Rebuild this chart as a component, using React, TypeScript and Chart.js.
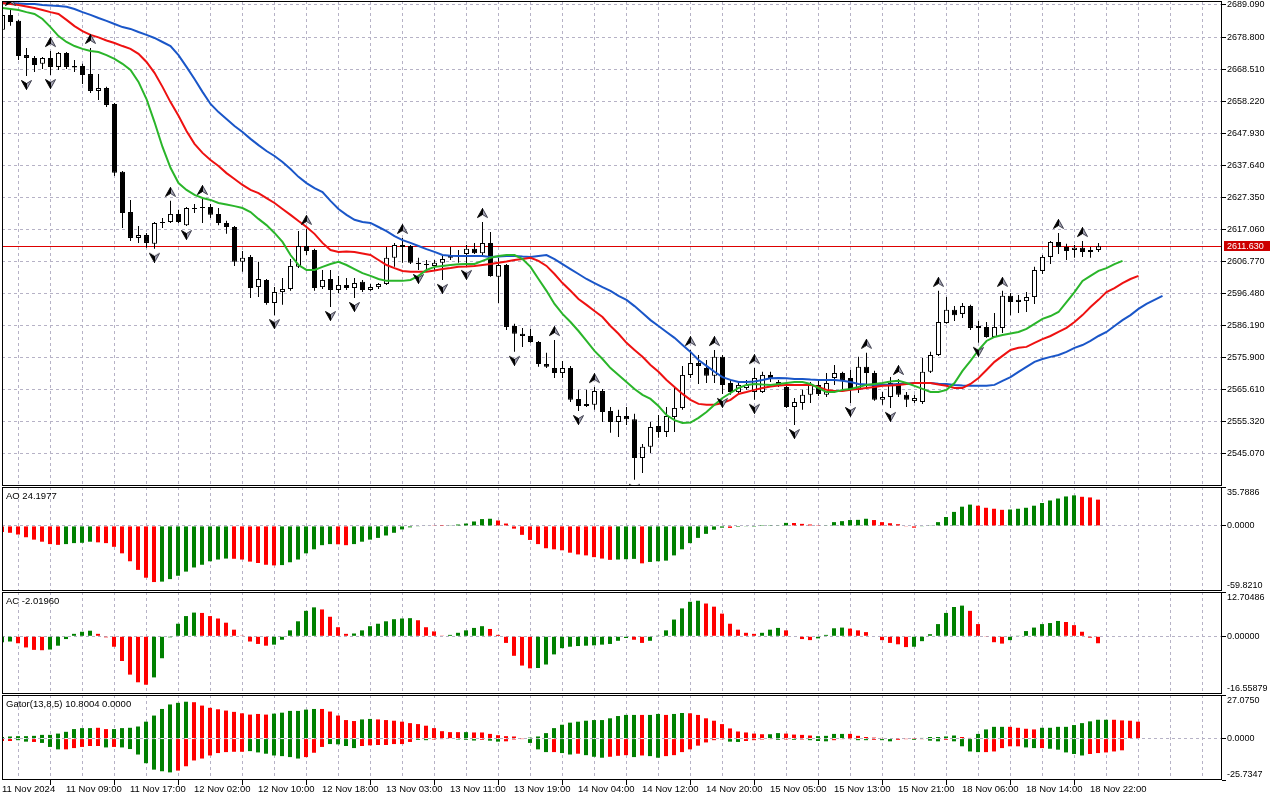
import React, { useEffect, useRef } from "react";
import { Chart, registerables } from "chart.js";

Chart.register(...registerables);

// ---------- price data (H1 bars, 11 Nov 01:00 .. 18 Nov 23:00) ----------
const opens = [
  2681.1, 2685.9, 2684.0, 2673.0, 2672.1, 2670.2, 2672.1, 2669.2, 2673.7, 2669.5,
  2669.5, 2666.9, 2661.5, 2662.4, 2657.3, 2635.5, 2622.6, 2614.3, 2615.2, 2612.4,
  2619.1, 2619.4, 2622.0, 2618.4, 2623.9, 2623.9, 2624.2, 2622.0, 2619.1, 2617.8,
  2606.6, 2608.2, 2598.5, 2600.8, 2593.4, 2596.9, 2597.9, 2605.0, 2611.7, 2610.4,
  2598.5, 2601.1, 2597.6, 2599.2, 2598.2, 2600.2, 2597.6, 2598.5, 2599.5, 2607.9,
  2611.4, 2611.7, 2606.3, 2605.9, 2605.3, 2606.3, 2607.9, 2608.8, 2609.1, 2610.8,
  2609.4, 2612.7, 2601.8, 2605.6, 2586.0, 2583.5, 2582.8, 2580.9, 2573.8, 2572.5,
  2570.9, 2572.5, 2562.6, 2561.0, 2560.7, 2565.1, 2558.7, 2555.2, 2557.1, 2556.1,
  2543.6, 2547.2, 2553.9, 2552.0, 2556.8, 2559.7, 2570.3, 2574.1, 2572.5, 2570.0,
  2576.1, 2567.7, 2564.8, 2566.1, 2564.8, 2564.8, 2570.3, 2568.0, 2566.4, 2560.0,
  2561.3, 2563.9, 2567.1, 2563.9, 2569.3, 2570.9, 2569.3, 2565.5, 2572.9, 2570.9,
  2562.3, 2563.2, 2567.7, 2563.9, 2561.9, 2561.6, 2571.3, 2576.7, 2587.0, 2591.2,
  2589.9, 2592.4, 2586.0, 2585.7, 2582.5, 2585.4, 2595.7, 2594.4, 2594.0, 2595.3,
  2603.7, 2608.2, 2613.0, 2611.4, 2610.4, 2611.1, 2609.8, 2610.4,
];
const highs = [
  2686.9, 2687.5, 2684.3, 2675.3, 2672.7, 2672.4, 2674.3, 2674.0, 2674.0, 2671.4,
  2670.2, 2675.3, 2666.9, 2662.8, 2657.6, 2635.8, 2626.5, 2618.1, 2615.9, 2619.4,
  2620.7, 2626.2, 2623.3, 2624.2, 2625.2, 2626.8, 2625.2, 2623.9, 2619.8, 2618.1,
  2610.1, 2608.8, 2606.6, 2601.1, 2598.5, 2601.4, 2607.5, 2616.5, 2617.2, 2610.8,
  2604.0, 2604.0, 2602.1, 2601.4, 2601.4, 2600.8, 2599.5, 2599.8, 2611.4, 2612.7,
  2614.3, 2612.0, 2607.9, 2607.2, 2607.2, 2608.8, 2611.4, 2610.4, 2612.0, 2612.7,
  2619.4, 2616.2, 2607.9, 2605.9, 2586.7, 2585.4, 2585.1, 2581.2, 2577.4, 2581.5,
  2574.8, 2573.2, 2565.5, 2565.5, 2566.4, 2565.8, 2560.0, 2559.1, 2560.0, 2557.8,
  2548.1, 2555.2, 2557.4, 2560.0, 2566.1, 2573.2, 2578.3, 2576.7, 2575.1, 2578.3,
  2576.7, 2568.7, 2568.0, 2568.7, 2572.5, 2571.3, 2571.3, 2568.7, 2567.7, 2562.9,
  2565.5, 2568.0, 2568.7, 2570.9, 2573.5, 2571.3, 2571.9, 2576.1, 2577.4, 2571.6,
  2564.8, 2569.6, 2569.0, 2564.8, 2563.9, 2575.7, 2577.7, 2597.3, 2595.3, 2592.4,
  2593.4, 2592.8, 2587.6, 2587.3, 2590.2, 2597.3, 2596.6, 2596.0, 2596.9, 2605.0,
  2608.8, 2613.3, 2615.9, 2612.4, 2612.0, 2613.3, 2611.4, 2612.7,
];
const lows = [
  2680.4, 2682.4, 2671.4, 2666.3, 2667.6, 2668.5, 2666.6, 2668.2, 2668.5, 2667.6,
  2663.7, 2660.8, 2658.6, 2656.3, 2634.2, 2617.5, 2613.3, 2612.7, 2611.1, 2610.8,
  2617.5, 2619.1, 2619.1, 2618.1, 2622.3, 2619.1, 2620.7, 2618.4, 2615.6, 2605.3,
  2603.4, 2595.0, 2595.3, 2592.8, 2589.5, 2592.8, 2597.3, 2604.6, 2608.8, 2597.3,
  2597.9, 2592.1, 2596.6, 2597.6, 2595.0, 2596.9, 2597.3, 2597.9, 2599.2, 2605.0,
  2606.3, 2605.9, 2604.0, 2604.0, 2604.0, 2600.8, 2607.2, 2606.3, 2605.3, 2609.1,
  2608.8, 2601.8, 2593.4, 2584.7, 2577.7, 2579.3, 2580.6, 2572.9, 2572.5, 2569.3,
  2569.3, 2561.6, 2558.7, 2560.0, 2559.1, 2555.2, 2551.7, 2550.4, 2554.2, 2536.6,
  2538.8, 2545.2, 2550.1, 2550.4, 2552.0, 2559.1, 2569.3, 2567.4, 2567.7, 2567.7,
  2564.2, 2563.9, 2564.2, 2565.5, 2562.3, 2564.5, 2568.0, 2566.4, 2559.7, 2554.2,
  2559.1, 2561.3, 2563.5, 2563.2, 2567.1, 2565.5, 2561.3, 2564.5, 2566.1, 2562.0,
  2560.7, 2559.7, 2563.2, 2560.0, 2561.3, 2561.0, 2570.9, 2576.4, 2586.7, 2587.6,
  2588.6, 2584.7, 2580.6, 2582.2, 2582.2, 2583.8, 2589.5, 2590.2, 2590.5, 2593.1,
  2602.7, 2605.9, 2609.1, 2607.2, 2607.9, 2608.2, 2607.9, 2609.8,
];
const closes = [
  2685.9, 2683.6, 2672.7, 2672.1, 2669.8, 2672.1, 2669.2, 2673.7, 2669.2, 2669.0,
  2666.6, 2661.5, 2662.4, 2657.0, 2635.2, 2622.3, 2614.3, 2615.2, 2612.7, 2619.1,
  2619.4, 2622.0, 2619.4, 2623.9, 2623.6, 2624.2, 2621.7, 2619.1, 2617.8, 2606.6,
  2607.9, 2598.2, 2601.1, 2593.4, 2596.9, 2597.9, 2605.3, 2611.7, 2610.1, 2598.2,
  2600.8, 2597.6, 2599.2, 2598.2, 2599.8, 2597.6, 2598.5, 2599.5, 2607.9, 2612.0,
  2612.0, 2606.3, 2605.9, 2605.6, 2606.3, 2607.5, 2608.5, 2608.6, 2610.8, 2609.4,
  2612.7, 2602.1, 2605.6, 2585.7, 2583.5, 2582.8, 2580.9, 2573.8, 2572.9, 2570.9,
  2572.5, 2562.3, 2560.3, 2560.3, 2565.1, 2558.4, 2555.2, 2557.1, 2556.1, 2543.6,
  2547.2, 2553.6, 2552.0, 2557.1, 2559.7, 2570.3, 2574.1, 2573.2, 2570.0, 2576.1,
  2567.1, 2564.8, 2567.1, 2567.1, 2569.3, 2570.3, 2569.0, 2567.1, 2560.0, 2561.6,
  2563.9, 2567.1, 2564.2, 2567.7, 2570.9, 2568.7, 2565.5, 2572.9, 2570.9, 2562.3,
  2563.2, 2567.7, 2563.9, 2562.3, 2562.9, 2571.3, 2576.7, 2587.3, 2591.2, 2589.5,
  2592.4, 2585.4, 2585.4, 2582.5, 2585.7, 2595.7, 2593.7, 2593.7, 2595.3, 2604.0,
  2608.2, 2613.0, 2611.4, 2610.1, 2611.1, 2609.8, 2610.4, 2611.63,
];
const lastPrice = 2611.63;

// ---------- Alligator (as displayed, shifted forward) ----------
const jaw = [
  2689.7, 2689.7, 2689.6, 2689.4, 2689.4, 2689.1, 2688.9, 2688.8, 2688.5, 2687.8,
  2686.8, 2685.9, 2684.9, 2684.0, 2683.0, 2682.0, 2681.4, 2680.4, 2679.5, 2678.5,
  2677.2, 2675.9, 2673.0, 2669.2, 2665.3, 2661.2, 2657.3, 2654.7, 2652.5, 2650.2,
  2648.3, 2646.1, 2644.1, 2642.2, 2640.6, 2638.7, 2636.4, 2633.9, 2631.9, 2630.3,
  2629.0, 2626.2, 2623.6, 2621.7, 2620.1, 2619.4, 2619.1, 2617.8, 2616.5, 2614.9,
  2613.6, 2612.7, 2611.7, 2610.7, 2609.8, 2608.8, 2608.6, 2608.5, 2608.5, 2608.5,
  2608.5, 2608.2, 2608.3, 2608.5, 2608.5, 2608.3, 2608.2, 2608.5, 2608.8, 2607.5,
  2605.9, 2604.3, 2602.7, 2601.1, 2599.8, 2598.5, 2597.3, 2595.7, 2594.4, 2592.4,
  2590.2, 2587.9, 2586.0, 2584.1, 2582.2, 2579.9, 2577.7, 2575.1, 2573.2, 2571.3,
  2569.6, 2568.7, 2568.0, 2568.0, 2568.2, 2568.7, 2569.2, 2569.3, 2569.2, 2569.0,
  2569.0, 2568.8, 2568.7, 2568.7, 2568.7, 2568.4, 2568.0, 2567.4, 2567.2, 2567.1,
  2567.1, 2567.2, 2567.4, 2567.5, 2567.7, 2567.7, 2567.7, 2567.5, 2567.4, 2567.1,
  2566.9, 2566.8, 2566.8, 2566.8, 2567.1, 2568.4, 2569.6, 2571.3, 2572.9, 2574.5,
  2575.4, 2576.1, 2576.7, 2577.7, 2579.0, 2579.9, 2581.2, 2582.8, 2584.1, 2586.0,
  2587.9, 2589.5, 2591.5, 2593.1, 2594.4, 2595.7,
];
const teeth = [
  2689.7, 2689.4, 2689.1, 2688.6, 2688.1, 2687.5, 2686.8, 2686.2, 2684.3, 2682.3,
  2680.7, 2679.5, 2678.7, 2677.7, 2676.9, 2675.9, 2675.0, 2673.4, 2670.8, 2667.3,
  2662.8, 2657.9, 2653.5, 2648.6, 2644.5, 2641.6, 2639.3, 2637.4, 2635.1, 2633.2,
  2631.3, 2629.7, 2628.7, 2627.1, 2625.5, 2623.6, 2621.7, 2619.7, 2617.8, 2615.6,
  2612.7, 2610.4, 2609.8, 2609.9, 2609.8, 2609.3, 2608.8, 2607.2, 2605.6, 2604.6,
  2603.7, 2603.4, 2603.4, 2603.4, 2603.8, 2604.3, 2604.6, 2605.0, 2605.1, 2605.3,
  2605.6, 2605.9, 2606.3, 2606.7, 2607.2, 2607.5, 2607.9, 2606.9, 2605.3, 2602.7,
  2599.8, 2597.3, 2594.7, 2592.8, 2590.8, 2588.9, 2586.0, 2583.5, 2580.6, 2578.3,
  2576.1, 2573.5, 2571.3, 2568.7, 2566.4, 2564.2, 2562.3, 2561.0, 2560.7, 2560.7,
  2561.3, 2562.3, 2564.2, 2564.8, 2565.5, 2566.1, 2566.6, 2566.9, 2567.1, 2567.1,
  2567.1, 2567.1, 2566.4, 2565.5, 2565.1, 2565.1, 2565.5, 2565.8, 2566.1, 2566.4,
  2566.8, 2566.9, 2567.1, 2567.4, 2567.7, 2567.7, 2567.7, 2567.2, 2566.8, 2566.1,
  2566.1, 2567.4, 2569.3, 2571.9, 2574.5, 2576.4, 2578.3, 2579.0, 2579.3, 2580.6,
  2581.8, 2582.8, 2584.1, 2585.4, 2587.3, 2589.5, 2592.1, 2594.4, 2596.9, 2598.2,
  2599.8, 2601.1, 2602.1,
];
const lips = [
  2688.1, 2687.8, 2687.5, 2686.8, 2686.2, 2684.6, 2682.0, 2679.1, 2677.2, 2675.9,
  2675.0, 2674.3, 2674.0, 2673.0, 2671.8, 2670.2, 2668.2, 2664.4, 2658.9, 2651.5,
  2643.5, 2636.8, 2631.9, 2629.7, 2628.1, 2627.1, 2626.5, 2625.5, 2625.0, 2624.5,
  2623.9, 2622.6, 2620.4, 2618.4, 2615.9, 2613.0, 2608.8, 2605.6, 2604.0, 2604.0,
  2605.0, 2605.9, 2606.6, 2605.6, 2604.3, 2603.0, 2602.1, 2601.1, 2600.5, 2600.5,
  2600.5, 2600.8, 2602.1, 2604.0, 2605.0, 2605.3, 2605.6, 2605.8, 2605.9, 2605.9,
  2606.9, 2607.9, 2608.5, 2608.8, 2608.8, 2607.5, 2605.0, 2601.1, 2597.3, 2593.1,
  2589.9, 2587.3, 2584.4, 2581.2, 2578.0, 2575.4, 2572.5, 2570.3, 2568.0, 2565.8,
  2563.9, 2562.6, 2560.3, 2557.4, 2555.8, 2554.9, 2555.0, 2556.5, 2558.4, 2560.7,
  2562.9, 2564.5, 2566.1, 2567.1, 2567.4, 2567.2, 2567.1, 2567.4, 2567.7, 2568.0,
  2568.0, 2567.4, 2566.1, 2564.8, 2564.8, 2565.5, 2565.8, 2566.4, 2567.1, 2567.4,
  2567.7, 2568.2, 2568.4, 2567.7, 2566.8, 2565.8, 2564.8, 2564.8, 2565.5, 2567.7,
  2571.6, 2574.8, 2578.3, 2581.2, 2582.5, 2583.1, 2583.6, 2584.1, 2585.1, 2586.7,
  2588.3, 2589.2, 2590.5, 2593.7, 2596.9, 2600.5, 2602.1, 2603.7, 2604.6, 2605.9,
  2606.9,
];

// ---------- Fractals (bar indexes) ----------
const fractalUpBars = [1, 6, 11, 21, 25, 38, 50, 60, 69, 74, 86, 89, 94, 108, 112, 117, 125, 132, 135];
const fractalDownBars = [3, 6, 19, 23, 34, 41, 44, 52, 55, 58, 64, 72, 79, 90, 94, 99, 106, 111, 122];

// ---------- Awesome Oscillator ----------
const aoValues = [
  -5.5, -6.3, -7.9, -10.4, -12.6, -14.5, -16.7, -17.4, -16.7, -15.8,
  -15.5, -14.5, -15.1, -15.8, -19.2, -25.2, -32.5, -40.4, -47.6, -51.6,
  -51.2, -48.9, -45.8, -42.0, -38.2, -35.7, -32.5, -30.9, -30.0, -30.2,
  -30.9, -32.8, -34.1, -35.7, -36.3, -36.0, -33.4, -30.9, -25.2, -21.5,
  -17.7, -16.7, -16.9, -17.7, -16.7, -14.5, -12.6, -11.0, -8.8, -6.3,
  -3.2, -1.3, -0.6, 0.5, 0.3, 0.1, 0.3, 1.3, 2.2, 4.1,
  6.3, 6.6, 5.0, 2.2, -2.5, -8.2, -12.9, -16.7, -20.5, -21.5,
  -22.4, -24.6, -26.2, -27.1, -28.7, -30.0, -31.2, -30.9, -30.6, -30.3,
  -34.4, -33.1, -32.5, -31.9, -27.1, -21.5, -15.8, -11.0, -7.3, -3.5,
  -1.6, -1.8, -0.9, -0.3, -0.1, 0.1, 0.2, 0.6, 2.8, 2.7,
  1.9, 1.3, 0.2, 0.6, 3.5, 4.4, 5.4, 5.6, 6.6, 5.4,
  3.5, 2.5, 1.6, -0.3, -1.6, -0.6, 0.3, 3.5, 8.2, 12.9,
  17.7, 19.6, 18.6, 16.7, 15.8, 14.8, 15.1, 15.8, 16.7, 18.6,
  21.1, 23.4, 25.2, 27.1, 28.1, 26.8, 26.2, 24.2,
];
const aoRising =
  "RRRRRRRR" + "GGGG" + "RRRRRRRR" + "GGGGGGGGG" + "RRRRRR" + "GGGGGGG" + "RR" +
  "GGGGGGGGGG" + "RR" + "GGGGGG" + "RRRRRRRRRRRRRRR" + "GGG" + "R" + "GGGGGGGGGG" +
  "R" + "GGGGGGG" + "RRRR" + "GGGGGG" + "RRRRRR" + "GGGGGGG" + "RRRR" + "GGGGGGGGG" + "RRR";

// ---------- Accelerator Oscillator ----------
const acValues = [
  -1.7, -1.5, -2.0, -3.2, -3.9, -4.0, -3.8, -2.7, -0.8, 0.7,
  1.3, 1.6, 0.7, -0.3, -3.0, -7.1, -11.0, -13.2, -13.9, -11.8,
  -6.3, -0.3, 3.6, 5.8, 6.8, 6.7, 5.8, 5.1, 3.9, 1.9,
  0.2, -1.5, -2.2, -2.7, -2.4, -1.0, 1.7, 4.3, 7.3, 8.3,
  7.7, 5.6, 2.6, 0.7, 0.8, 1.7, 2.9, 3.6, 4.3, 4.9,
  5.1, 5.2, 4.6, 2.6, 1.4, 0.2, 0.4, 1.0, 1.7, 2.4,
  2.9, 2.1, 0.4, -1.9, -5.6, -8.4, -9.2, -9.1, -8.1, -5.2,
  -3.4, -3.0, -2.8, -2.7, -2.6, -2.4, -2.2, -1.3, -0.5, -1.0,
  -1.9, -1.3, 0.2, 1.7, 4.8, 8.0, 9.9, 10.2, 9.4, 8.5,
  6.5, 3.6, 1.9, 1.0, 0.7, 1.0, 1.9, 2.4, 1.7, 0.0,
  -0.8, -1.1, -0.6, 0.4, 2.3, 2.5, 2.2, 1.7, 1.2, 0.0,
  -1.1, -1.9, -2.3, -3.1, -3.0, -1.4, 0.6, 3.5, 6.7, 8.4,
  8.8, 7.3, 3.5, -0.1, -1.7, -2.1, -1.1, 0.1, 1.5, 2.5,
  3.5, 3.8, 4.4, 4.1, 3.2, 1.3, -0.4, -2.0,
];
const acRising =
  "GG" + "RRRR" + "GGGGGG" + "RRRRRRR" + "GGGGGG" + "RRRRRRRRR" + "GGGGGG" + "RRRR" +
  "GGGGGGGG" + "RRRR" + "GGGGG" + "RRRRRR" + "GGGGGGGGGGGG" + "RR" + "GGGGGGG" +
  "RRRRRRR" + "GGG" + "RRRR" + "GGGG" + "RRRRRRRR" + "GGGGGGG" + "RRRRR" + "GGGGGGG" + "RRRRR";

// ---------- Gator Oscillator ----------
const gatorUpper = [
  1.0, 1.3, 1.5, 1.5, 1.7, 2.3, 2.3, 3.1, 4.2, 5.9,
  6.5, 6.5, 6.7, 5.9, 5.9, 6.5, 6.7, 7.5, 10.5, 14.3,
  18.4, 21.2, 22.2, 22.9, 22.6, 20.5, 19.1, 18.2, 17.4, 16.6,
  15.7, 14.9, 15.3, 14.9, 15.5, 16.1, 17.2, 17.2, 18.0, 18.4,
  18.4, 16.8, 14.3, 11.5, 10.9, 11.9, 12.2, 11.9, 11.5, 11.1,
  10.5, 9.6, 9.0, 8.0, 6.5, 4.6, 4.0, 4.0, 4.0, 3.8,
  3.8, 2.9, 2.1, 1.5, 1.3, 0.2, 0.6, 1.3, 3.4, 6.5,
  8.6, 9.9, 10.5, 11.1, 11.5, 11.5, 12.6, 14.0, 14.7, 14.7,
  14.7, 14.7, 15.3, 14.7, 15.3, 15.9, 15.7, 14.7, 12.6, 11.1,
  9.0, 6.3, 4.4, 3.8, 3.1, 2.7, 2.7, 3.4, 3.1, 2.5,
  2.3, 1.9, 1.5, 1.7, 2.9, 2.9, 2.9, 1.7, 1.0, 0.6,
  0.4, 0.3, 0.2, 0.2, 0.1, 0.4, 1.0, 1.0, 1.3, 1.9,
  1.0, 0.4, 2.9, 5.7, 7.3, 7.3, 7.3, 6.7, 6.1, 5.7,
  6.7, 6.7, 7.3, 7.3, 8.4, 9.6, 10.7, 11.7, 11.7, 11.7,
  11.3, 11.1, 10.5,
];
const gatorUpperRising =
  "GGGGGGGGGGGG" + "RR" + "GGGGGGGGGG" + "RRRRRRRRRR" + "GGGGGG" + "RRRRR" + "GG" +
  "RRRRRRRRRRR" + "G" + "RRRRRRR" + "GGGGGGGGGGGGGG" + "R" + "GG" + "R" + "GG" +
  "RRRRRRRRRR" + "GG" + "RRRR" + "GGGG" + "RRRRRRRRR" + "GGGGG" + "RR" + "GGGG" +
  "RRRR" + "GGGGGGGGG" + "RRRR";
const gatorLower = [
  -1.5, -1.5, -1.0, -1.9, -2.1, -2.7, -5.2, -6.7, -6.7, -5.9,
  -5.2, -4.6, -4.6, -5.5, -5.2, -5.5, -6.5, -9.9, -15.3, -19.3,
  -20.3, -21.0, -19.9, -17.2, -13.6, -12.4, -10.5, -9.0, -8.4, -8.2,
  -8.2, -7.8, -8.6, -9.4, -10.5, -10.9, -11.5, -12.4, -11.5, -8.8,
  -5.2, -3.4, -3.6, -4.6, -5.9, -4.6, -4.2, -4.0, -4.0, -3.4,
  -3.4, -2.1, -0.8, -1.0, -0.6, -0.4, -0.3, -0.6, -0.8, -1.2,
  -0.8, -1.3, -1.9, -1.7, -0.6, -0.2, -2.7, -6.7, -8.4, -8.4,
  -9.0, -9.9, -9.4, -10.3, -11.3, -11.9, -11.3, -10.7, -10.3, -11.5,
  -10.5, -10.9, -11.9, -10.9, -10.3, -8.4, -6.7, -4.4, -2.4, -1.0,
  -0.5, -1.9, -2.1, -1.5, -1.0, -0.6, -0.4, -0.8, -0.6, -0.8,
  -0.6, -1.0, -1.5, -1.7, -1.0, -0.4, -0.1, -1.0, -1.0, -0.8,
  -1.0, -1.7, -0.8, -0.4, -0.8, -0.4, -1.3, -1.7, -0.8, -1.7,
  -4.8, -8.0, -8.4, -8.4, -8.0, -5.9, -4.8, -4.8, -5.5, -5.9,
  -5.9, -6.3, -6.9, -8.6, -9.6, -10.5, -9.6, -9.0, -8.6, -8.0,
  -7.3,
];
const gatorLowerRising =
  "RR" + "GG" + "R" + "GGG" + "RRRRR" + "G" + "R" + "GGGGGGG" + "RRRRRRRRR" + "GGGGGGG" +
  "RRR" + "GGGG" + "RRRRRRR" + "GG" + "RRR" + "GGG" + "R" + "GG" + "RRR" + "GGG" + "R" +
  "GG" + "R" + "GGG" + "RRR" + "G" + "R" + "GG" + "RRRRRRRR" + "GG" + "RRRR" + "G" + "R" +
  "G" + "R" + "GGG" + "RRR" + "GG" + "R" + "GG" + "RR" + "G" + "R" + "GG" + "R" + "GGGG" +
  "RRRRR" + "GG" + "R" + "GGGGG" + "RRRRR";

// ---------- Axis ticks / labels ----------
const priceTicks = [
  2545.07, 2555.32, 2565.61, 2575.9, 2586.19, 2596.48, 2606.77, 2617.06,
  2627.35, 2637.64, 2647.93, 2658.22, 2668.51, 2678.8, 2689.09,
];
const timeLabelBars = [0, 8, 16, 24, 32, 40, 48, 56, 64, 72, 80, 88, 96, 104, 112, 120, 128, 136];
const timeLabelTexts = [
  "11 Nov 2024", "11 Nov 09:00", "11 Nov 17:00", "12 Nov 02:00", "12 Nov 10:00",
  "12 Nov 18:00", "13 Nov 03:00", "13 Nov 11:00", "13 Nov 19:00", "14 Nov 04:00",
  "14 Nov 12:00", "14 Nov 20:00", "15 Nov 05:00", "15 Nov 13:00", "15 Nov 21:00",
  "18 Nov 06:00", "18 Nov 14:00", "18 Nov 22:00",
];
const aoRange = [-59.821, 35.7886];
const acRange = [-16.55879, 12.70486];
const gatorRange = [-25.7347, 27.075];

// ---------- styling ----------
const FAMILY = "'Liberation Sans', Arial, sans-serif";
const FONT = { family: FAMILY, size: 9 };
const XFONT = { family: FAMILY, size: 9.5 };
const GRID = "#b6b2c6";
const UP_GREEN = "#008000";
const DOWN_RED = "#ff0000";
const JAW_BLUE = "#1a56c8";
const TEETH_RED = "#ee1111";
const LIPS_GREEN = "#2ab52a";
const AXIS_W = 58;
const GRID_STEP_BARS = 4;
const GRID_BARS = Array.from({ length: 39 }, (_, k) => k * GRID_STEP_BARS);
const LABEL_AT = new Map<number, string>(timeLabelBars.map((b, k) => [b, timeLabelTexts[k]]));

const colorsOf = (flags: string, n: number) =>
  Array.from({ length: n }, (_, i) => ((flags[i] || flags[flags.length - 1]) === "G" ? UP_GREEN : DOWN_RED));

// fractal arrow glyph: dark left half, light right half (MT5 look)
function makeArrow(up: boolean) {
  const c = document.createElement("canvas");
  c.width = 11;
  c.height = 28;
  const g = c.getContext("2d") as CanvasRenderingContext2D;
  const y0 = up ? 0.5 : 18.5;
  const tipY = up ? y0 : y0 + 9;
  const baseY = up ? y0 + 9 : y0;
  const notchY = up ? y0 + 6 : y0 + 3;
  // right half
  g.beginPath();
  g.moveTo(5.5, tipY);
  g.lineTo(10.5, baseY);
  g.lineTo(5.5, notchY);
  g.closePath();
  g.fillStyle = "#a8a8b8";
  g.fill();
  g.strokeStyle = "#3a3a48";
  g.lineWidth = 1;
  g.stroke();
  // left half
  g.beginPath();
  g.moveTo(5.5, tipY);
  g.lineTo(0.5, baseY);
  g.lineTo(5.5, notchY);
  g.closePath();
  g.fillStyle = "#000";
  g.fill();
  g.strokeStyle = "#000";
  g.stroke();
  return c;
}

function xAxis(min: number, max: number, showLabels: boolean) {
  return {
    type: "linear",
    min,
    max,
    offset: false,
    afterBuildTicks: (s: any) => {
      s.ticks = GRID_BARS.map((v) => ({ value: v }));
    },
    afterFit: (s: any) => {
      s.height = showLabels ? 20 : 0;
      s.paddingLeft = 0;
      s.paddingRight = 0;
    },
    grid: {
      color: GRID,
      lineWidth: 1,
      drawTicks: showLabels,
      tickLength: 5,
      tickColor: (ctx: any) => (ctx.tick && LABEL_AT.has(ctx.tick.value) ? "#000" : "rgba(0,0,0,0)"),
    },
    border: { display: false, dash: [3, 3] },
    ticks: {
      display: showLabels,
      autoSkip: false,
      maxRotation: 0,
      minRotation: 0,
      align: "start",
      padding: -1,
      color: "#000",
      font: XFONT,
      callback: (v: number) => LABEL_AT.get(v) ?? "",
    },
  };
}

function subYAxis(range: number[], decimals: number) {
  const [min, max] = range;
  return {
    position: "right",
    min,
    max,
    afterBuildTicks: (s: any) => {
      s.ticks = [min, 0, max].map((v) => ({ value: v }));
    },
    afterFit: (s: any) => {
      s.width = AXIS_W;
      s.paddingTop = 0;
      s.paddingBottom = 0;
    },
    grid: {
      color: (ctx: any) => (ctx.tick && ctx.tick.value === 0 ? GRID : "rgba(0,0,0,0)"),
      drawTicks: true,
      tickLength: 4,
      tickColor: "#000",
    },
    border: { display: false, dash: [3, 3] },
    ticks: {
      padding: 1,
      color: "#000",
      font: FONT,
      callback: (v: number) => {
        const t = Number(v).toFixed(decimals);
        if (v === max) return ["", t];
        if (v === min) return [t, ""];
        return t;
      },
    },
  };
}

const framePlugin = {
  id: "frame",
  afterDraw(chart: any) {
    const { ctx, chartArea: a } = chart;
    ctx.save();
    ctx.strokeStyle = "#000";
    ctx.lineWidth = 1;
    ctx.strokeRect(a.left + 0.5, a.top + 0.5, a.right - a.left - 1, a.bottom - a.top - 1);
    ctx.restore();
  },
};

function titlePlugin(text: string) {
  return {
    id: "panelTitle",
    afterDraw(chart: any) {
      const { ctx, chartArea: a } = chart;
      ctx.save();
      ctx.font = `9.5px ${FAMILY}`;
      ctx.fillStyle = "#000";
      ctx.textBaseline = "middle";
      ctx.textAlign = "left";
      ctx.fillText(text, 6, a.top + 9.5);
      ctx.restore();
    },
  };
}

const baseOptions = (padTop: number) => ({
  responsive: false,
  animation: false,
  devicePixelRatio: 1,
  events: [],
  layout: { autoPadding: false, padding: { left: 2, top: padTop, right: 0, bottom: 0 } },
  plugins: { legend: { display: false }, tooltip: { enabled: false }, title: { display: false } },
});

const SUB_X_MIN = 0;
const SUB_X_MAX = 152.5;
const MAIN_X_MIN = -0.0625;
const MAIN_X_MAX = 152.4375;

export default function App() {
  const mainRef = useRef<HTMLCanvasElement>(null);
  const aoRef = useRef<HTMLCanvasElement>(null);
  const acRef = useRef<HTMLCanvasElement>(null);
  const gatorRef = useRef<HTMLCanvasElement>(null);

  useEffect(() => {
    Chart.defaults.font.family = FAMILY;
    Chart.defaults.font.size = 9;
    const upImg = makeArrow(true);
    const downImg = makeArrow(false);

    // bid line (behind candles) and its price tag on the axis
    const pricePlugin = {
      id: "priceLine",
      beforeDatasetsDraw(chart: any) {
        const { ctx, chartArea: a } = chart;
        const y = Math.round(chart.scales.y.getPixelForValue(lastPrice)) + 0.5;
        ctx.save();
        ctx.strokeStyle = "#dd0000";
        ctx.lineWidth = 1;
        ctx.beginPath();
        ctx.moveTo(a.left, y);
        ctx.lineTo(a.right, y);
        ctx.stroke();
        ctx.restore();
      },
      afterDraw(chart: any) {
        const { ctx } = chart;
        const y = Math.round(chart.scales.y.getPixelForValue(lastPrice));
        ctx.save();
        ctx.fillStyle = "#cc0000";
        ctx.fillRect(chart.chartArea.right + 2, y - 5, 46, 10);
        ctx.fillStyle = "#fff";
        ctx.font = `9px ${FAMILY}`;
        ctx.textBaseline = "middle";
        ctx.textAlign = "left";
        ctx.fillText(lastPrice.toFixed(3), chart.chartArea.right + 5, y + 0.5);
        ctx.restore();
      },
    };

    const main = new Chart(mainRef.current as HTMLCanvasElement, {
      type: "bar",
      data: {
        datasets: [
          {
            type: "bar",
            data: lows.map((l, i) => ({ x: i, y: [l, highs[i]] })),
            backgroundColor: "#000",
            borderWidth: 0,
            barThickness: 1,
            grouped: false,
            inflateAmount: 0,
            order: 9,
          },
          {
            type: "bar",
            data: opens.map((o, i) => ({ x: i, y: [o, closes[i]] })),
            backgroundColor: opens.map((o, i) => (closes[i] > o ? "#ffffff" : "#000000")),
            borderColor: "#000",
            borderWidth: 1,
            borderSkipped: false,
            barThickness: 5,
            grouped: false,
            inflateAmount: 0,
            order: 8,
          },
          {
            type: "line",
            data: jaw.map((v, i) => ({ x: i, y: v })),
            borderColor: JAW_BLUE,
            borderWidth: 2,
            pointRadius: 0,
            tension: 0,
            order: 5,
          },
          {
            type: "line",
            data: teeth.map((v, i) => ({ x: i, y: v })),
            borderColor: TEETH_RED,
            borderWidth: 2,
            pointRadius: 0,
            tension: 0,
            order: 4,
          },
          {
            type: "line",
            data: lips.map((v, i) => ({ x: i, y: v })),
            borderColor: LIPS_GREEN,
            borderWidth: 2,
            pointRadius: 0,
            tension: 0,
            order: 3,
          },
          {
            type: "scatter",
            data: fractalUpBars.map((i) => ({ x: i, y: highs[i] })),
            pointStyle: upImg,
            pointRadius: 5,
            order: 1,
          },
          {
            type: "scatter",
            data: fractalDownBars.map((i) => ({ x: i, y: lows[i] })),
            pointStyle: downImg,
            pointRadius: 5,
            order: 1,
          },
        ],
      },
      options: {
        ...baseOptions(1),
        scales: {
          x: xAxis(MAIN_X_MIN, MAIN_X_MAX, false),
          y: {
            position: "right",
            min: 2534.63,
            max: 2690.37,
            afterBuildTicks: (s: any) => {
              s.ticks = priceTicks.map((v) => ({ value: v }));
            },
            afterFit: (s: any) => {
              s.width = AXIS_W;
              s.paddingTop = 0;
              s.paddingBottom = 0;
            },
            grid: { color: GRID, drawTicks: true, tickLength: 4, tickColor: "#000" },
            border: { display: false, dash: [3, 3] },
            ticks: { padding: 1, color: "#000", font: FONT, callback: (v: number) => Number(v).toFixed(3) },
          },
        },
      } as any,
      plugins: [pricePlugin, framePlugin],
    } as any);

    const ao = new Chart(aoRef.current as HTMLCanvasElement, {
      type: "bar",
      data: {
        datasets: [
          {
            data: aoValues.map((v, i) => ({ x: i, y: v })),
            backgroundColor: colorsOf(aoRising, aoValues.length),
            borderWidth: 0,
            barThickness: 4,
            grouped: false,
            inflateAmount: 0,
          },
        ],
      },
      options: {
        ...baseOptions(0),
        scales: { x: xAxis(SUB_X_MIN, SUB_X_MAX, false), y: subYAxis(aoRange, 4) },
      } as any,
      plugins: [framePlugin, titlePlugin("AO 24.1977")],
    } as any);

    const ac = new Chart(acRef.current as HTMLCanvasElement, {
      type: "bar",
      data: {
        datasets: [
          {
            data: acValues.map((v, i) => ({ x: i, y: v })),
            backgroundColor: colorsOf(acRising, acValues.length),
            borderWidth: 0,
            barThickness: 4,
            grouped: false,
            inflateAmount: 0,
          },
        ],
      },
      options: {
        ...baseOptions(0),
        scales: { x: xAxis(SUB_X_MIN, SUB_X_MAX, false), y: subYAxis(acRange, 5) },
      } as any,
      plugins: [framePlugin, titlePlugin("AC -2.01960")],
    } as any);

    const gator = new Chart(gatorRef.current as HTMLCanvasElement, {
      type: "bar",
      data: {
        datasets: [
          {
            data: gatorUpper.map((v, i) => ({ x: i, y: v })),
            backgroundColor: colorsOf(gatorUpperRising, gatorUpper.length),
            borderWidth: 0,
            barThickness: 4,
            grouped: false,
            inflateAmount: 0,
          },
          {
            data: gatorLower.map((v, i) => ({ x: i, y: v })),
            backgroundColor: colorsOf(gatorLowerRising, gatorLower.length),
            borderWidth: 0,
            barThickness: 4,
            grouped: false,
            inflateAmount: 0,
          },
        ],
      },
      options: {
        ...baseOptions(0),
        scales: { x: xAxis(SUB_X_MIN, SUB_X_MAX, true), y: subYAxis(gatorRange, 4) },
      } as any,
      plugins: [framePlugin, titlePlugin("Gator(13,8,5) 10.8004 0.0000")],
    } as any);

    return () => {
      main.destroy();
      ao.destroy();
      ac.destroy();
      gator.destroy();
    };
  }, []);

  const cv = (top: number) => ({ position: "absolute" as const, left: 0, top, display: "block" });

  return (
    <div style={{ position: "fixed", left: 0, top: 0, width: 1280, height: 800, background: "#fff", overflow: "hidden" }}>
      <canvas ref={mainRef} width={1280} height={486} style={cv(0)} />
      <canvas ref={aoRef} width={1280} height={104} style={cv(487)} />
      <canvas ref={acRef} width={1280} height={102} style={cv(592)} />
      <canvas ref={gatorRef} width={1280} height={105} style={cv(695)} />
    </div>
  );
}
